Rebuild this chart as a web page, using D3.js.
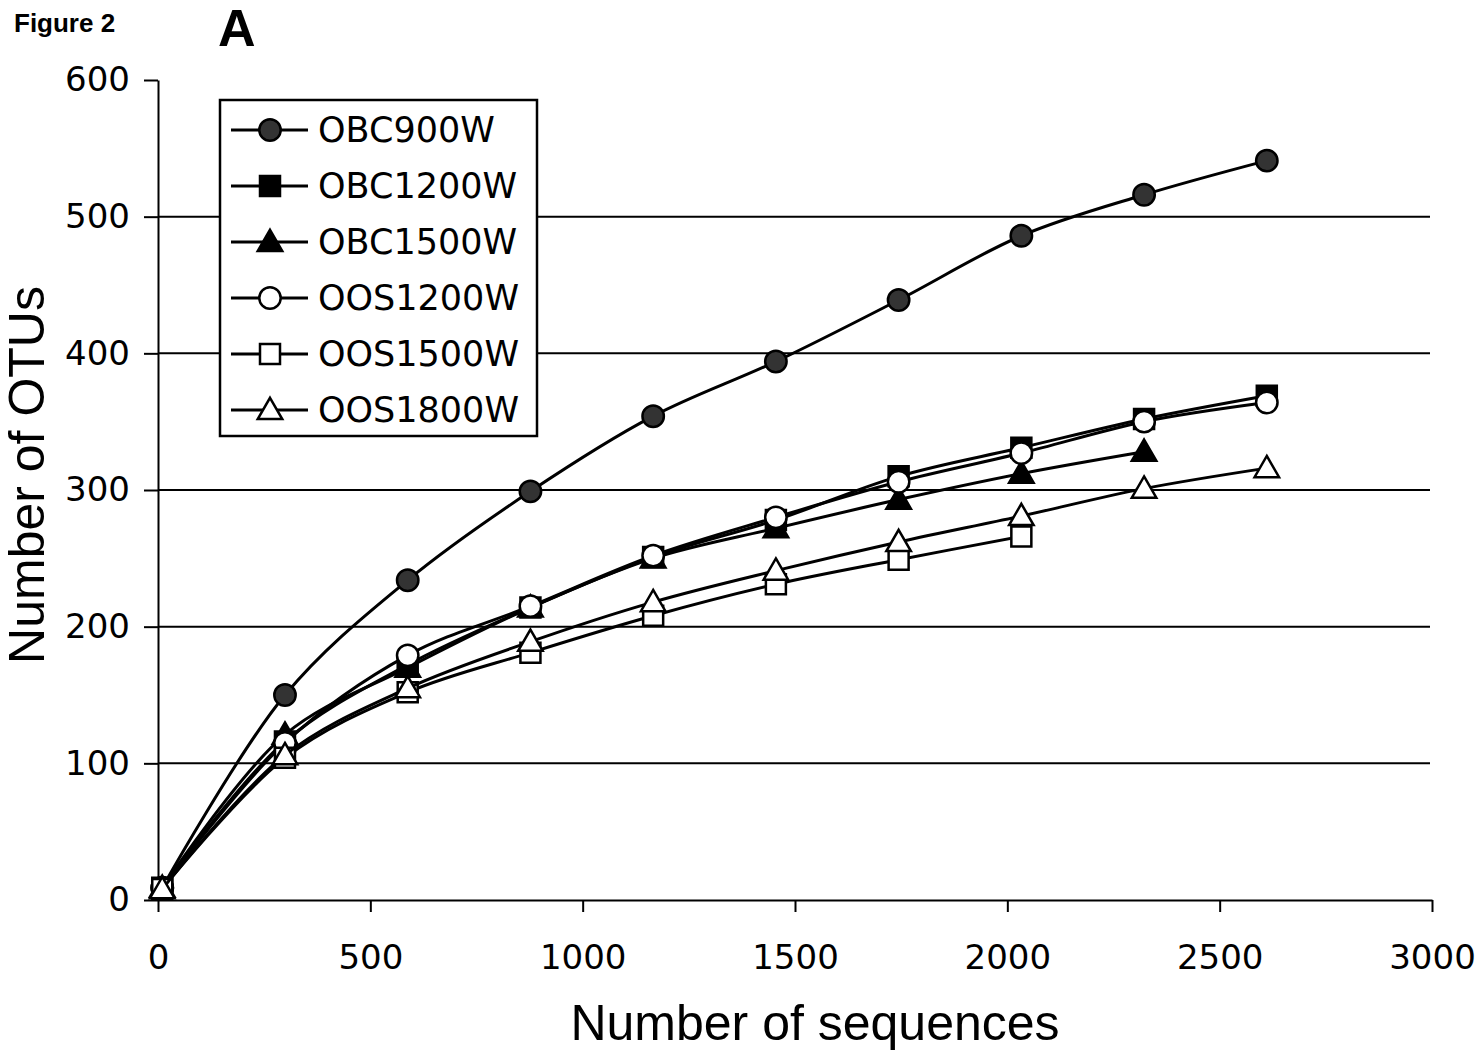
<!DOCTYPE html>
<html>
<head>
<meta charset="utf-8">
<script src="https://cdn.jsdelivr.net/npm/d3@7"></script>
<style>
  body { margin: 0; background: #fff; }
  svg { display: block; }
</style>
</head>
<body>
<div id="chart"></div>
<script>
// Data
const sequences = [10, 299, 588, 877, 1166, 1455, 1744, 2033, 2322, 2611];
const seriesNames = ["OBC900W", "OBC1200W", "OBC1500W", "OOS1200W", "OOS1500W", "OOS1800W"];
const obc900w  = [9, 150, 234, 299, 354, 394, 439, 486, 516, 541];
const obc1200w = [9, 116, 172, 214, 251, 278, 310, 331, 352, 369];
const obc1500w = [9, 121, 170, 214, 250, 272, 293, 312, 328];
const oos1200w = [9, 115, 179, 215, 252, 280, 306, 327, 350, 364];
const oos1500w = [8, 104, 152, 181, 208, 231, 249, 266];
const oos1800w = [8, 106, 155, 189, 218, 241, 262, 281, 301, 316];
const xTicks = [0, 500, 1000, 1500, 2000, 2500, 3000];
const yTicks = [0, 100, 200, 300, 400, 500, 600];

const seriesValues = [obc900w, obc1200w, obc1500w, oos1200w, oos1500w, oos1800w];
// marker style per series
const markers = [
  { shape: "circle", fill: "#333" },
  { shape: "square", fill: "#000" },
  { shape: "triangle", fill: "#000" },
  { shape: "circle", fill: "#fff" },
  { shape: "square", fill: "#fff" },
  { shape: "triangle", fill: "#fff" }
];

const W = 1482, H = 1053;
const margin = { top: 80, right: 50, bottom: 153, left: 158 };
const width = W - margin.left - margin.right;
const height = H - margin.top - margin.bottom;

const svg = d3.select("#chart").append("svg")
  .attr("width", W)
  .attr("height", H);

const g = svg.append("g")
  .attr("transform", `translate(${margin.left},${margin.top})`);

const x = d3.scaleLinear().domain([0, 3000]).range([0, width]);
const y = d3.scaleLinear().domain([0, 600]).range([height, 0]);

// gridlines (100..500)
g.append("g")
  .selectAll("line")
  .data(yTicks.filter(d => d > 0 && d < 600))
  .enter().append("line")
  .attr("x1", 0).attr("x2", width - 2)
  .attr("y1", d => y(d)).attr("y2", d => y(d))
  .attr("stroke", "#000").attr("stroke-width", 2);

// axes
const xAxis = d3.axisBottom(x).tickValues(xTicks).tickFormat(d3.format("d"))
  .tickSize(12).tickPadding(33).tickSizeOuter(0);
const yAxis = d3.axisLeft(y).tickValues(yTicks).tickFormat(d3.format("d"))
  .tickSize(14).tickPadding(14).tickSizeOuter(0);

const gx = g.append("g")
  .attr("transform", `translate(0,${height})`)
  .call(xAxis);
const gy = g.append("g").call(yAxis);

[gx, gy].forEach(a => {
  a.selectAll("path, line").attr("stroke", "#000").attr("stroke-width", 2);
  a.selectAll("text")
    .attr("fill", "#000")
    .style("font-family", "'DejaVu Sans', Verdana, sans-serif")
    .style("font-size", "34px");
});

// lines
const line = d3.line()
  .x((d, i) => x(sequences[i]))
  .y(d => y(d))
  .curve(d3.curveCatmullRom.alpha(0.5));

const symbolPath = (shape, size) => {
  const type = shape === "circle" ? d3.symbolCircle : shape === "square" ? d3.symbolSquare : d3.symbolTriangle;
  return d3.symbol().type(type).size(size)();
};
const sizes = { circle: 360, square: 400, triangle: 260 };

seriesValues.forEach((vals, s) => {
  const sg = g.append("g");
  sg.append("path")
    .datum(vals)
    .attr("d", line)
    .attr("fill", "none")
    .attr("stroke", "#000")
    .attr("stroke-width", 3);

  sg.selectAll("path.mk")
    .data(vals)
    .enter().append("path")
    .attr("class", "mk")
    .attr("d", symbolPath(markers[s].shape, sizes[markers[s].shape]))
    .attr("transform", (d, i) => `translate(${x(sequences[i])},${y(d) + (markers[s].shape === "triangle" ? 2 : 0)})`)
    .attr("fill", markers[s].fill)
    .attr("stroke", "#000")
    .attr("stroke-width", 2.5);
});

// legend
const lg = svg.append("g").attr("transform", "translate(220,100)");
lg.append("rect")
  .attr("width", 317).attr("height", 336)
  .attr("fill", "#fff").attr("stroke", "#000").attr("stroke-width", 2.5);

seriesNames.forEach((name, i) => {
  const cy = 30 + i * 56;
  lg.append("line")
    .attr("x1", 11).attr("x2", 88)
    .attr("y1", cy).attr("y2", cy)
    .attr("stroke", "#000").attr("stroke-width", 3);
  lg.append("path")
    .attr("d", symbolPath(markers[i].shape, sizes[markers[i].shape]))
    .attr("transform", `translate(50,${cy + (markers[i].shape === "triangle" ? 2 : 0)})`)
    .attr("fill", markers[i].fill)
    .attr("stroke", "#000")
    .attr("stroke-width", 2.5);
  lg.append("text")
    .attr("x", 98).attr("y", cy + 12)
    .style("font-family", "'DejaVu Sans', Verdana, sans-serif")
    .style("font-size", "35px")
    .text(name);
});

// axis titles
svg.append("text")
  .attr("x", 815).attr("y", 1040)
  .attr("text-anchor", "middle")
  .style("font-family", "'Liberation Sans', Arial, sans-serif")
  .style("font-size", "50px")
  .text("Number of sequences");

svg.append("text")
  .attr("transform", "translate(44,475) rotate(-90)")
  .attr("text-anchor", "middle")
  .style("font-family", "'Liberation Sans', Arial, sans-serif")
  .style("font-size", "50px")
  .text("Number of OTUs");

// figure labels
svg.append("text")
  .attr("x", 14).attr("y", 32)
  .style("font-family", "'Liberation Sans', Arial, sans-serif")
  .style("font-weight", "bold")
  .style("font-size", "26px")
  .text("Figure 2");

svg.append("text")
  .attr("x", 218).attr("y", 46)
  .style("font-family", "'Liberation Sans', Arial, sans-serif")
  .style("font-weight", "bold")
  .style("font-size", "52px")
  .text("A");
</script>
</body>
</html>
